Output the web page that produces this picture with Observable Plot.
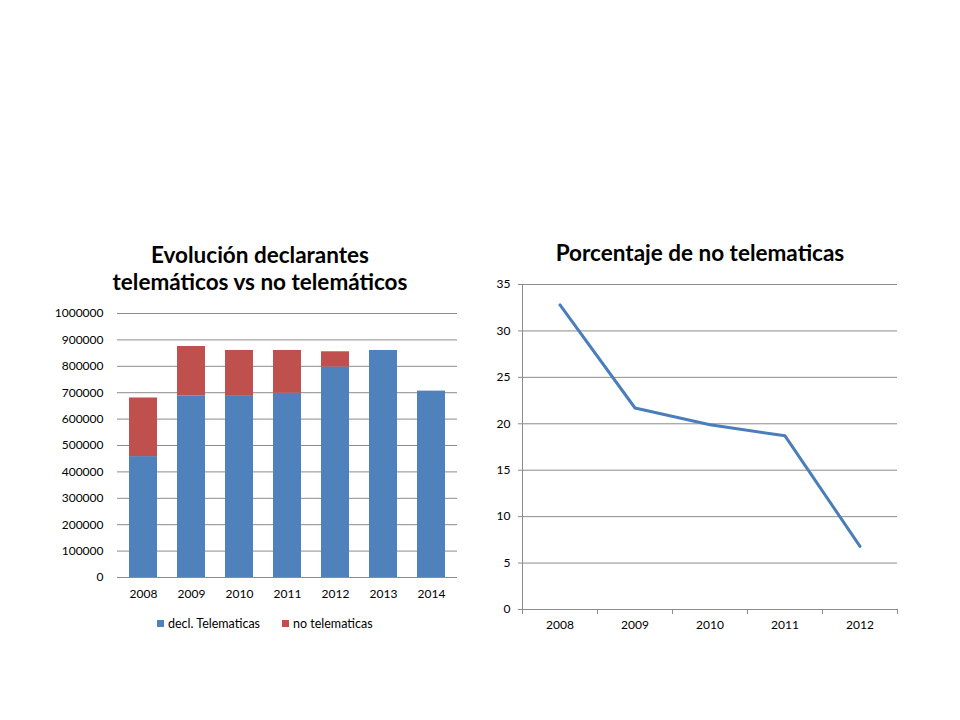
<!DOCTYPE html>
<html><head><meta charset="utf-8">
<script src="https://cdn.jsdelivr.net/npm/d3@7"></script>
<script src="https://cdn.jsdelivr.net/npm/@observablehq/plot@0.6"></script>
<style>
body{margin:0;background:#fff;font-family:Lato,"Open Sans",sans-serif}
#page{position:relative;width:960px;height:720px;overflow:hidden;background:#fff}
.abs{position:absolute}
.title{font-weight:bold;font-size:22.5px;text-align:center;color:#000;line-height:27px;white-space:nowrap}
.leg{font-size:12.5px;color:#000;display:flex;align-items:center;white-space:nowrap;height:16px}
.sw{display:inline-block;width:7px;height:7px;margin-right:4px}
</style></head>
<body><div id="page">
<div class="abs title" style="left:100px;top:241px;width:320px">Evolución declarantes<br>telemáticos vs no telemáticos</div>
<div class="abs title" style="left:540px;top:239px;width:320px">Porcentaje de no telematicas</div>
<div id="left" class="abs" style="left:0;top:300px"></div>
<div id="right" class="abs" style="left:480px;top:270px"></div>
<div id="leg0" class="abs leg" style="left:157px;top:615px"></div>
<div id="leg1" class="abs leg" style="left:282px;top:615px"></div>
</div>
<script>
// Left chart data
const years = ["2008","2009","2010","2011","2012","2013","2014"];
const telematicas = [458000, 687000, 689000, 698000, 797000, 860000, 706000];
const noTelematicas = [222000, 188000, 171000, 162000, 58000, 0, 0];
const seriesNames = ["decl. Telematicas", "no telematicas"];
const seriesColors = ["#4F81BD", "#C0504D"];
const yTicksLeft = [0,100000,200000,300000,400000,500000,600000,700000,800000,900000,1000000];

// Right chart data
const pctYears = [2008, 2009, 2010, 2011, 2012];
const pctValues = [32.8, 21.7, 19.9, 18.7, 6.8];
const pctTicks = [0,5,10,15,20,25,30,35];
const pctBoundaries = [2007.5, 2008.5, 2009.5, 2010.5, 2011.5, 2012.5];

const table = [];
years.forEach((y,i)=>{
  table.push({year:y, series:seriesNames[0], value:telematicas[i]});
  table.push({year:y, series:seriesNames[1], value:noTelematicas[i]});
});
const grid = "#8c8c8c";
const style = {fontFamily:"Lato, 'Open Sans', sans-serif", fontSize:"12px", color:"#000", background:"transparent", overflow:"visible"};

const left = Plot.plot({
  width:470, height:320, marginLeft:117, marginRight:13, marginTop:13, marginBottom:43,
  style,
  x:{domain:years, paddingInner:0.424, paddingOuter:0.212, label:null},
  y:{domain:[0,1000000], label:null},
  color:{domain:seriesNames, range:seriesColors},
  marks:[
    Plot.ruleY(yTicksLeft, {stroke:grid, strokeWidth:1}),
    Plot.barY(table, {x:"year", y:"value", fill:"series"}),
    Plot.axisY({ticks:yTicksLeft, tickSize:0, tickPadding:14, tickFormat:d=>String(d), label:null}),
    Plot.axisX({tickSize:0, tickPadding:12, label:null})
  ]
});
document.getElementById("left").appendChild(left);

const pctData = pctYears.map((y,i)=>({year:y, pct:pctValues[i]}));
const right = Plot.plot({
  width:430, height:370, marginLeft:42, marginRight:13, marginTop:14, marginBottom:31,
  style,
  x:{domain:[2007.5,2012.5], label:null},
  y:{domain:[0,35], label:null},
  marks:[
    Plot.ruleY(pctTicks.slice(1), {stroke:grid, strokeWidth:1}),
    Plot.ruleX([pctBoundaries[0]], {stroke:grid, strokeWidth:1}),
    Plot.ruleY([0], {stroke:grid, strokeWidth:1}),
    Plot.axisX({ticks:pctBoundaries, tickSize:5, tickFormat:()=>"", stroke:grid, label:null}),
    Plot.axisX({ticks:pctYears, tickSize:0, tickPadding:11, tickFormat:d=>String(d), label:null}),
    Plot.axisY({ticks:pctTicks, tickSize:4, tickPadding:8, stroke:grid, label:null}),
    Plot.line(pctData, {x:"year", y:"pct", stroke:"#4A7EBB", strokeWidth:3})
  ]
});
document.getElementById("right").appendChild(right);

seriesNames.forEach((n,i)=>{
  document.getElementById("leg"+i).innerHTML =
    `<span class="sw" style="background:${seriesColors[i]}"></span>${n}`;
});
</script>
</body></html>
